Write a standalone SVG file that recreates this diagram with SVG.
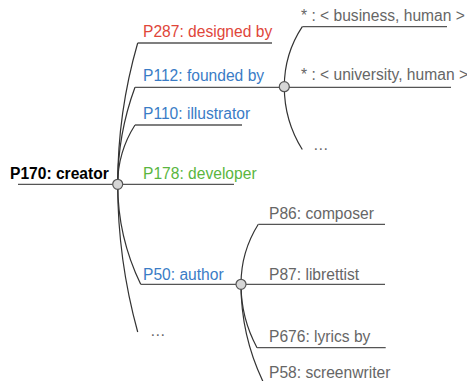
<svg xmlns="http://www.w3.org/2000/svg" width="467" height="381" viewBox="0 0 467 381">
<style>
text{font-family:"Liberation Sans",Arial,sans-serif;font-size:15.6px}
.b{font-weight:bold;fill:#000}
.r{fill:#e0463a}
.bl{fill:#3a7cc6}
.g{fill:#5ab640}
.k{fill:#666}
.ln{stroke:#555;stroke-width:1.3;fill:none}
.cv{stroke:#333;stroke-width:1.2;fill:none}
.dot{fill:#d6d6d6;stroke:#555;stroke-width:1.2}
</style>
<rect width="467" height="381" fill="#fff"/>
<g id="connectors">
<path class="cv" d="M117.7,184.3 A509 509 0 0 1 137.7,43"/>
<path class="cv" d="M117.7,184.3 A280.6 280.6 0 0 1 135,87.3"/>
<path class="cv" d="M117.7,184.3 A110.3 110.3 0 0 1 135,125"/>
<path class="cv" d="M117.7,184.3 A228.9 228.9 0 0 0 140.7,284.3"/>
<path class="cv" d="M117.7,184.3 A555 555 0 0 0 137.7,332"/>
<path class="cv" d="M284.3,86.7 A109 109 0 0 1 302.3,26.7"/>
<path class="cv" d="M284.3,86.7 A118.6 118.6 0 0 0 302.3,149.5"/>
<path class="cv" d="M241,284.3 A112.7 112.7 0 0 1 258.3,224.3"/>
<path class="cv" d="M241,284.3 A133.6 133.6 0 0 0 257,347.7"/>
<path class="cv" d="M241,284.3 A226 226 0 0 0 264.8,385.3"/>
</g>
<g id="p170">
<line class="ln" x1="18" y1="184.3" x2="117.7" y2="184.3"/>
<text class="b" x="10" y="179">P170: creator</text>
</g>
<g id="p287">
<line class="ln" x1="137.7" y1="43" x2="272" y2="43"/>
<text class="r" x="143" y="37">P287: designed by</text>
</g>
<g id="p112">
<line class="ln" x1="135" y1="87.3" x2="284.3" y2="87.3"/>
<text class="bl" x="143" y="81">P112: founded by</text>
</g>
<g id="p110">
<line class="ln" x1="135" y1="125" x2="242" y2="125"/>
<text class="bl" x="143" y="119">P110: illustrator</text>
</g>
<g id="p178">
<line class="ln" x1="117.7" y1="184.3" x2="234" y2="184.3"/>
<text class="g" x="143" y="179">P178: developer</text>
</g>
<g id="p50">
<line class="ln" x1="140.7" y1="284.3" x2="241" y2="284.3"/>
<text class="bl" x="143" y="280">P50: author</text>
</g>
<g id="more1">
<text class="k" x="150" y="336">…</text>
</g>
<g id="business">
<line class="ln" x1="302.3" y1="26.7" x2="447" y2="26.7"/>
<text class="k" x="301" y="21">* : &lt; business, human &gt;</text>
</g>
<g id="university">
<line class="ln" x1="284.3" y1="87.3" x2="451" y2="87.3"/>
<text class="k" x="301" y="80">* : &lt; university, human &gt;</text>
</g>
<g id="more2">
<text class="k" x="313" y="150">…</text>
</g>
<g id="p86">
<line class="ln" x1="258.3" y1="224.3" x2="385" y2="224.3"/>
<text class="k" x="269" y="219">P86: composer</text>
</g>
<g id="p87">
<line class="ln" x1="241" y1="284.3" x2="385" y2="284.3"/>
<text class="k" x="269" y="280">P87: librettist</text>
</g>
<g id="p676">
<line class="ln" x1="257" y1="347.7" x2="385.7" y2="347.7"/>
<text class="k" x="269" y="342">P676: lyrics by</text>
</g>
<g id="p58">
<text class="k" x="269" y="378">P58: screenwriter</text>
</g>
<g id="hubs">
<circle class="dot" cx="117.7" cy="184.3" r="5"/>
<circle class="dot" cx="284.3" cy="86.7" r="5"/>
<circle class="dot" cx="241" cy="284.3" r="5"/>
</g>
</svg>
